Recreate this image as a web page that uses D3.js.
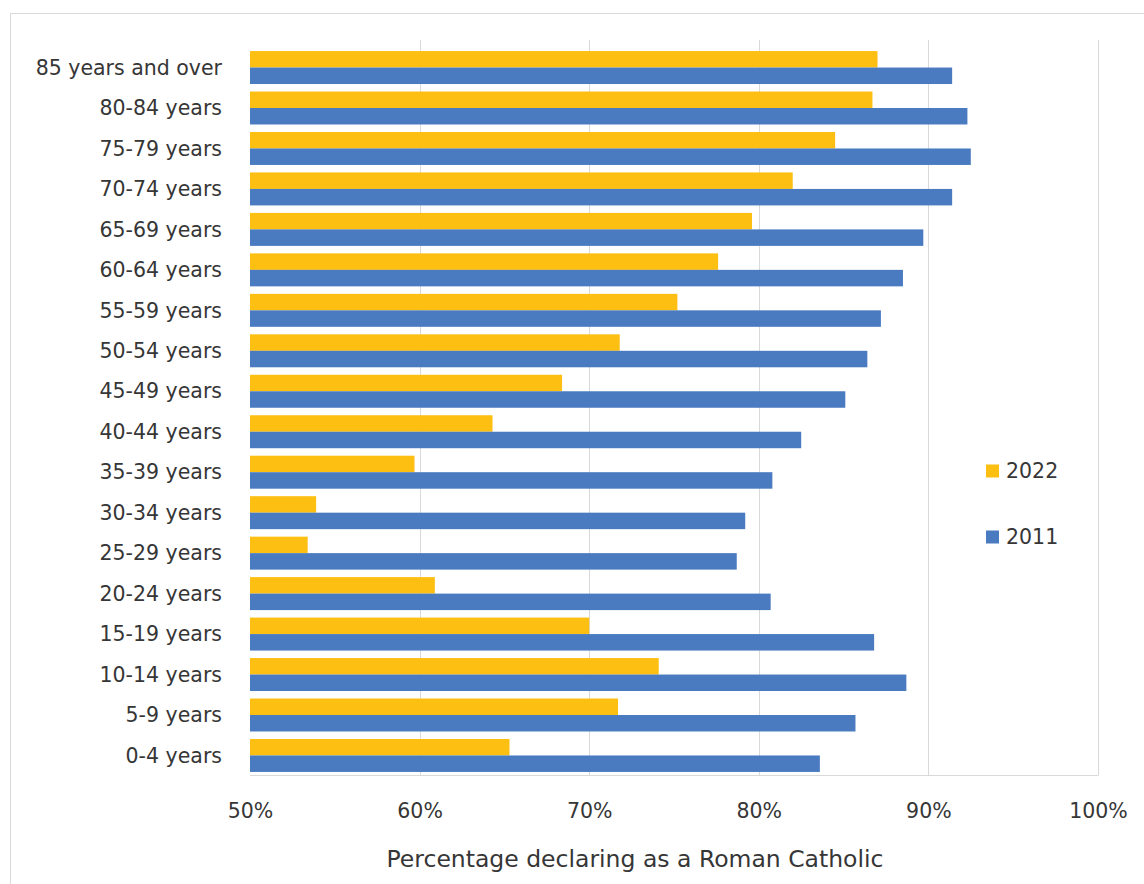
<!DOCTYPE html>
<html>
<head>
<meta charset="utf-8">
<script src="https://cdn.jsdelivr.net/npm/d3@7"></script>
<style>
  body { margin: 0; background: #ffffff; }
  svg { display: block; }
  text { font-family: "DejaVu Sans", sans-serif; fill: #363636; }
</style>
</head>
<body>
<svg id="chart" width="1144" height="884"></svg>
<script>
const categories = [
  "85 years and over", "80-84 years", "75-79 years", "70-74 years", "65-69 years",
  "60-64 years", "55-59 years", "50-54 years", "45-49 years", "40-44 years",
  "35-39 years", "30-34 years", "25-29 years", "20-24 years", "15-19 years",
  "10-14 years", "5-9 years", "0-4 years"
];
const values2022 = [87.0, 86.7, 84.5, 82.0, 79.6, 77.6, 75.2, 71.8, 68.4, 64.3, 59.7, 53.9, 53.4, 60.9, 70.0, 74.1, 71.7, 65.3];
const values2011 = [91.4, 92.3, 92.5, 91.4, 89.7, 88.5, 87.2, 86.4, 85.1, 82.5, 80.8, 79.2, 78.7, 80.7, 86.8, 88.7, 85.7, 83.6];
const seriesNames = ["2022", "2011"];
const seriesColors = ["#FDBF12", "#4A7BC1"];
const xTickValues = [50, 60, 70, 80, 90, 100];
const xTickLabels = ["50%", "60%", "70%", "80%", "90%", "100%"];
const xAxisTitle = "Percentage declaring as a Roman Catholic";

const seriesValues = [values2022, values2011];
const textColor = "#363636";

const svg = d3.select("#chart");

// outer chart border (light gray, extends off-canvas right/bottom)
svg.append("rect")
  .attr("x", 10.5).attr("y", 13.5)
  .attr("width", 1160).attr("height", 900)
  .attr("fill", "none").attr("stroke", "#d9d9d9").attr("stroke-width", 1);

const x = d3.scaleLinear().domain([50, 100]).range([250, 1098]);
const y = d3.scaleBand().domain(categories).range([47.3, 775.7])
  .paddingInner(0.185).paddingOuter(0.0925);
const ySub = d3.scaleBand().domain(seriesNames).range([0, y.bandwidth()]);

const plotTop = 40, plotBottom = 775.5;

// gridlines
svg.append("g").selectAll("line").data(xTickValues.slice(1)).join("line")
  .attr("x1", d => Math.round(x(d)) + 0.5).attr("x2", d => Math.round(x(d)) + 0.5)
  .attr("y1", plotTop).attr("y2", plotBottom)
  .attr("stroke", "#d9d9d9").attr("stroke-width", 1);

// bars
const rows = categories.map((c, i) => ({ cat: c, vals: seriesNames.map((s, j) => ({ s, j, v: seriesValues[j][i] })) }));
svg.append("g").selectAll("g").data(rows).join("g")
  .attr("transform", d => `translate(0,${y(d.cat)})`)
  .selectAll("rect").data(d => d.vals).join("rect")
  .attr("x", x(50))
  .attr("y", d => ySub(d.s))
  .attr("width", d => x(d.v) - x(50))
  .attr("height", ySub.bandwidth())
  .attr("fill", d => seriesColors[d.j]);

// x axis
const xAxis = d3.axisBottom(x).tickValues(xTickValues)
  .tickFormat((d, i) => xTickLabels[i]).tickSize(0).tickPadding(0);
const gx = svg.append("g").attr("transform", `translate(0,${plotBottom})`).call(xAxis);
gx.select(".domain").attr("stroke", "#d9d9d9").attr("d", `M${x(50)},0H${x(100)}`);
gx.selectAll("text")
  .attr("y", 42.5).attr("dy", null)
  .style("font-family", '"DejaVu Sans", sans-serif')
  .style("font-size", "20.5px").attr("fill", textColor);

// y axis labels
const yAxis = d3.axisLeft(y).tickSize(0).tickPadding(28);
const gy = svg.append("g").attr("transform", `translate(250,0)`).call(yAxis);
gy.select(".domain").remove();
gy.selectAll("text")
  .attr("dy", "0.35em")
  .style("font-family", '"DejaVu Sans", sans-serif')
  .style("font-size", "20.5px").attr("fill", textColor);

// axis title
svg.append("text")
  .attr("x", 635).attr("y", 867)
  .attr("text-anchor", "middle")
  .style("font-size", "23.5px")
  .text(xAxisTitle);

// legend
const legend = svg.append("g").attr("transform", "translate(986,0)");
const legendY = [471, 537];
seriesNames.forEach((s, j) => {
  legend.append("rect")
    .attr("x", 0).attr("y", legendY[j] - 6.5)
    .attr("width", 13).attr("height", 13)
    .attr("fill", seriesColors[j]);
  legend.append("text")
    .attr("x", 20).attr("y", legendY[j]).attr("dy", "0.36em")
    .style("font-size", "20.5px")
    .text(s);
});
</script>
</body>
</html>
